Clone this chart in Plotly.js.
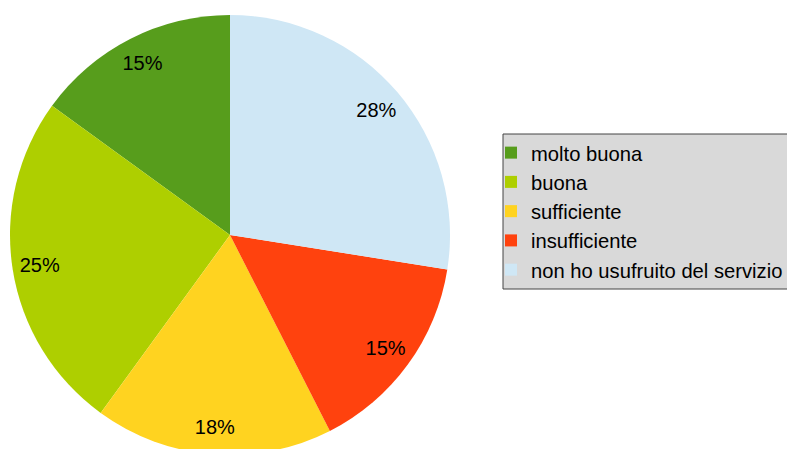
<!DOCTYPE html>
<html>
<head>
<meta charset="utf-8">
<script src="https://cdn.plot.ly/plotly-3.0.1.min.js"></script>
<style>
html,body{margin:0;padding:0;overflow:hidden;background:#fff;}
#chart{width:787px;height:470px;}
</style>
</head>
<body>
<div id="chart"></div>
<script>
const categories = ['molto buona','buona','sufficiente','insufficiente','non ho usufruito del servizio'];
const counts = [6, 10, 7, 6, 11];
const colors = ['#579D1C','#AECF00','#FFD320','#FF420E','#CFE7F5'];

const W = 787, H = 470;
const dom = {x:[10/W, 450/W], y:[(H-455)/H, (H-15)/H]};
const total = counts.reduce((a,b)=>a+b,0);
const rot = -360*counts[0]/total;

const base = {
  type:'pie', labels:categories, values:counts, sort:false, direction:'counterclockwise',
  rotation:rot, domain:dom, marker:{colors:colors, line:{width:0}},
  textinfo:'none', hoverinfo:'none', showlegend:true
};
const overlay = {
  type:'pie', labels:categories, values:counts, sort:false, direction:'counterclockwise',
  rotation:rot, domain:dom, hole:0.75,
  marker:{colors:categories.map(()=> 'rgba(0,0,0,0)'), line:{width:0}},
  texttemplate:'%{percent:.0%}', textposition:'inside', insidetextorientation:'horizontal',
  textfont:{family:'Liberation Sans, Arial, sans-serif', size:20, color:'#000'},
  hoverinfo:'none', showlegend:false
};

const layout = {
  width:W, height:H, margin:{l:0,r:0,t:0,b:0,autoexpand:false},
  paper_bgcolor:'#fff', showlegend:true,
  shapes:[{type:'rect', xref:'paper', yref:'paper', x0:503/W, x1:800/W, y0:1-289/H, y1:1-134/H,
    fillcolor:'#d9d9d9', line:{color:'#444', width:1}, layer:'below'}],
  legend:{x:491/W, y:1-133/H, xanchor:'left', yanchor:'top',
    bgcolor:'rgba(0,0,0,0)', borderwidth:0,
    font:{family:'Liberation Sans, Arial, sans-serif', size:20.2, color:'#000'}}
};
Plotly.newPlot('chart',[base, overlay],layout,{displayModeBar:false, staticPlot:true});
</script>
</body>
</html>
